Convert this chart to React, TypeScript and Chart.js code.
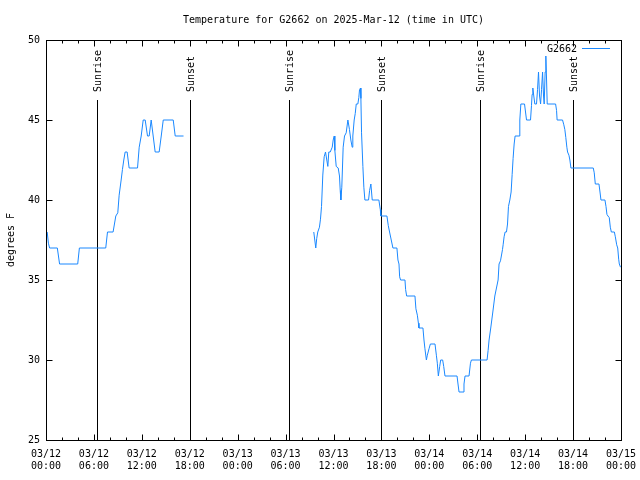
import React, { useEffect, useRef } from "react";
import { Chart, registerables } from "chart.js";

Chart.register(...registerables);

const TITLE = "Temperature for G2662 on 2025-Mar-12 (time in UTC)";
const SERIES_NAME = "G2662";
const Y_LABEL = "degrees F";
const LINE_COLOR = "#1a88ff";
const FONT_FAMILY = "'DejaVu Sans Mono', 'Liberation Mono', monospace";

// x tick labels (every 6 hours from 03/12 00:00)
const TICK_DATES = ["03/12", "03/12", "03/12", "03/12", "03/13", "03/13", "03/13", "03/13", "03/14", "03/14", "03/14", "03/14", "03/15"];
const TICK_TIMES = ["00:00", "06:00", "12:00", "18:00", "00:00", "06:00", "12:00", "18:00", "00:00", "06:00", "12:00", "18:00", "00:00"];

// sunrise / sunset markers (hours since 03/12 00:00 UTC)
const EVENT_HOURS = [6.43, 17.97, 30.42, 41.98, 54.4, 66.0];
const EVENT_LABELS = ["Sunrise", "Sunset", "Sunrise", "Sunset", "Sunrise", "Sunset"];

// temperature series: hours since 03/12 00:00 UTC and degrees F (null = gap)
const HOURS = [
  0.15, 0.3, 0.45, 1.42, 1.7, 3.97, 4.18, 7.48, 7.7, 8.4, 8.74, 8.99, 9.16, 9.41, 9.57, 9.74, 9.91, 10.16, 10.41, 11.46,
  11.67, 11.92, 12.17, 12.42, 12.71, 12.92, 13.17, 13.42, 13.67, 14.17, 14.43, 14.68, 15.93, 16.18, 17.22,
  25.0,
  33.53, 33.78, 33.9, 34.03, 34.24, 34.37, 34.5, 34.66, 34.83, 35.0, 35.16, 35.29, 35.41, 35.59, 35.84, 35.96, 36.09,
  36.17, 36.34, 36.59, 36.75, 36.84, 36.92, 37.04, 37.21, 37.38, 37.59, 37.8, 38.0, 38.17, 38.34, 38.42, 38.59, 38.72,
  38.85, 39.05, 39.17, 39.26, 39.39, 39.43, 39.51, 39.68, 39.8, 39.93, 40.39, 40.52, 40.68, 40.85, 41.68, 41.86, 41.93,
  42.69, 42.86, 43.02, 43.44, 43.94, 44.07, 44.2, 44.28, 44.4, 44.95, 45.03, 45.16, 46.2, 46.32, 46.5, 46.63, 46.7,
  47.2, 47.33, 47.45, 47.63, 47.75, 47.96, 48.13, 48.71, 48.88, 49.0, 49.13, 49.3, 49.42, 49.67, 49.8, 49.96, 51.47,
  51.59, 51.72, 52.22, 52.34, 52.47, 52.97, 53.15, 53.27, 55.23, 55.36, 55.48, 55.69, 55.95, 56.2, 56.61, 56.73, 56.91,
  57.16, 57.24, 57.36, 57.49, 57.66, 57.79, 57.91, 58.08, 58.24, 58.37, 58.49, 58.62, 58.74, 59.24, 59.33, 59.46, 59.92,
  60.17, 60.67, 60.79, 60.87, 60.96, 61.08, 61.21, 61.42, 61.55, 61.67, 61.8, 61.93, 62.05, 62.18, 62.3, 62.38, 62.5,
  62.59, 62.68, 62.76, 63.81, 63.93, 64.0, 64.68, 64.84, 64.97, 65.09, 65.22, 65.31, 65.48, 65.6, 65.73, 68.53, 68.65,
  68.78, 69.24, 69.37, 69.49, 69.99, 70.12, 70.24, 70.37, 70.53, 70.66, 70.79, 71.17, 71.29, 71.46, 71.59, 71.71, 71.79,
  71.94,
];
const TEMPS = [
  38, 37.3, 37, 37, 36, 36, 37, 37, 38, 38, 39, 39.2, 40.3, 41.25, 41.9, 42.5, 43, 43, 42, 42,
  43.3, 44, 45, 45, 44, 44, 45, 44, 43, 43, 44, 45, 45, 44, 44,
  null,
  38, 37, 37.6, 38, 38.3, 38.8, 39.6, 41.56, 42.7, 43, 42.5, 42.1, 43, 43, 43.3, 43.75, 44,
  43.1, 42.1, 42, 41.5, 40.6, 40, 40.8, 43.3, 44, 44.2, 45, 44.4, 43.75, 43.3, 44, 45, 45.4,
  46, 46, 46.4, 46.9, 47, 46.35, 44.2, 42.1, 40.8, 40, 40, 40.6, 41, 40, 40, 39.4, 39,
  39, 38.4, 38, 37, 37, 36.25, 36, 35.2, 35, 35, 34.4, 34, 34, 33.2, 32.8, 32.3, 32,
  32, 31.25, 30.7, 30, 30.3, 30.7, 31, 31, 30.3, 29.8, 29, 29.6, 30, 30, 29.6, 29, 29,
  28.5, 28, 28, 28.5, 29, 29, 29.8, 30, 30, 30.6, 31.25, 32, 33, 34, 35, 36, 36.2,
  36.9, 37.2, 37.7, 38, 38, 38.5, 39.6, 40, 40.5, 41.6, 42.6, 43.5, 44, 44, 45, 46, 46,
  45, 45, 45.9, 46.6, 47, 46.5, 46, 46, 46.9, 48, 46.5, 46, 46.9, 48, 46.5, 46, 48,
  49, 47.5, 46, 46, 45.6, 45, 45, 44.7, 44.4, 43.9, 43.3, 43, 42.8, 42.5, 42, 42, 41.7,
  41, 41, 40.5, 40, 40, 39.6, 39.1, 39, 38.9, 38.3, 38, 38, 37.7, 37.2, 37, 36.3, 36,
  35.8,
];

const X_MIN = 0;
const X_MAX = 72;
const X_MAJOR = 6;
const X_MINOR = 2;
const Y_MIN = 25;
const Y_MAX = 50;
const Y_STEP = 5;

const decorPlugin = {
  id: "gnuplotDecor",
  beforeDatasetsDraw(chart: any) {
    const { ctx, chartArea, scales } = chart;
    const xs = scales.x;
    const top = Math.round(chartArea.top + 0.15 * (chartArea.bottom - chartArea.top));
    ctx.save();
    ctx.strokeStyle = "#000";
    ctx.lineWidth = 1;
    ctx.fillStyle = "#000";
    ctx.font = `10px ${FONT_FAMILY}`;
    EVENT_HOURS.forEach((h, i) => {
      const px = Math.round(xs.getPixelForValue(h)) + 0.5;
      ctx.beginPath();
      ctx.moveTo(px, top);
      ctx.lineTo(px, chartArea.bottom);
      ctx.stroke();
      ctx.save();
      ctx.translate(px + 1, top - 8);
      ctx.rotate(-Math.PI / 2);
      ctx.textAlign = "left";
      ctx.textBaseline = "middle";
      ctx.fillText(EVENT_LABELS[i], 0, 0);
      ctx.restore();
    });
    ctx.restore();
  },
  afterDatasetsDraw(chart: any) {
    const { ctx, chartArea, scales } = chart;
    const xs = scales.x;
    const ys = scales.y;
    const L = chartArea.left + 0.5;
    const R = chartArea.right + 0.5;
    const T = chartArea.top + 0.5;
    const B = chartArea.bottom + 0.5;
    ctx.save();
    ctx.strokeStyle = "#000";
    ctx.lineWidth = 1;
    ctx.beginPath();
    // x ticks
    for (let v = X_MIN; v <= X_MAX; v += X_MINOR) {
      const px = Math.round(xs.getPixelForValue(v)) + 0.5;
      const len = v % X_MAJOR === 0 ? 6 : 3;
      ctx.moveTo(px, B);
      ctx.lineTo(px, B - len);
      ctx.moveTo(px, T);
      ctx.lineTo(px, T + len);
    }
    // y ticks
    for (let v = Y_MIN; v <= Y_MAX; v += Y_STEP) {
      const py = Math.round(ys.getPixelForValue(v)) + 0.5;
      ctx.moveTo(L, py);
      ctx.lineTo(L + 6, py);
      ctx.moveTo(R, py);
      ctx.lineTo(R - 6, py);
    }
    ctx.stroke();
    ctx.strokeRect(L, T, R - L, B - T);

    // title
    ctx.fillStyle = "#000";
    ctx.font = `10px ${FONT_FAMILY}`;
    ctx.textAlign = "center";
    ctx.textBaseline = "middle";
    ctx.fillText(TITLE, (chartArea.left + chartArea.right) / 2, 20);

    // legend (text then sample line)
    ctx.textAlign = "right";
    ctx.fillText(SERIES_NAME, 577, 49);
    ctx.strokeStyle = LINE_COLOR;
    ctx.beginPath();
    ctx.moveTo(582, 48.5);
    ctx.lineTo(610, 48.5);
    ctx.stroke();
    ctx.restore();
  },
};

export default function App() {
  const ref = useRef<HTMLCanvasElement | null>(null);

  useEffect(() => {
    if (!ref.current) return;
    const font = { family: FONT_FAMILY, size: 10 };
    const chart = new Chart(ref.current, {
      type: "line",
      data: {
        datasets: [
          {
            label: SERIES_NAME,
            data: HOURS.map((h, i) => ({ x: h, y: TEMPS[i] as any })),
            borderColor: LINE_COLOR,
            borderWidth: 1,
            pointRadius: 0,
            tension: 0,
            spanGaps: false,
            fill: false,
          },
        ],
      },
      options: {
        animation: false,
        responsive: false,
        maintainAspectRatio: false,
        layout: { padding: { top: 40, right: 19, left: 0, bottom: 0 } },
        plugins: {
          legend: { display: false },
          tooltip: { enabled: false },
          title: { display: false },
        },
        scales: {
          x: {
            type: "linear",
            min: X_MIN,
            max: X_MAX,
            afterFit: (s: any) => {
              s.height = 40;
              s.paddingLeft = 0;
              s.paddingRight = 0;
            },
            grid: { display: false, drawTicks: false },
            border: { display: false },
            ticks: {
              stepSize: X_MAJOR,
              autoSkip: false,
              maxRotation: 0,
              minRotation: 0,
              padding: 8,
              color: "#000",
              font,
              callback: (v: any) => {
                const i = Math.round(Number(v) / X_MAJOR);
                return [TICK_DATES[i], TICK_TIMES[i]];
              },
            },
          },
          y: {
            type: "linear",
            min: Y_MIN,
            max: Y_MAX,
            afterFit: (s: any) => {
              s.width = 46;
              s.paddingTop = 0;
              s.paddingBottom = 0;
            },
            grid: { display: false, drawTicks: false },
            border: { display: false },
            ticks: {
              stepSize: Y_STEP,
              padding: 6,
              color: "#000",
              font,
            },
            title: {
              display: true,
              text: Y_LABEL,
              color: "#000",
              font,
              padding: { top: 5, bottom: 0 },
            },
          },
        },
      } as any,
      plugins: [decorPlugin],
    });
    return () => chart.destroy();
  }, []);

  return (
    <div style={{ position: "absolute", left: 0, top: 0, width: 640, height: 480, background: "#fff" }}>
      <canvas ref={ref} width={640} height={480} style={{ width: 640, height: 480 }} />
    </div>
  );
}
